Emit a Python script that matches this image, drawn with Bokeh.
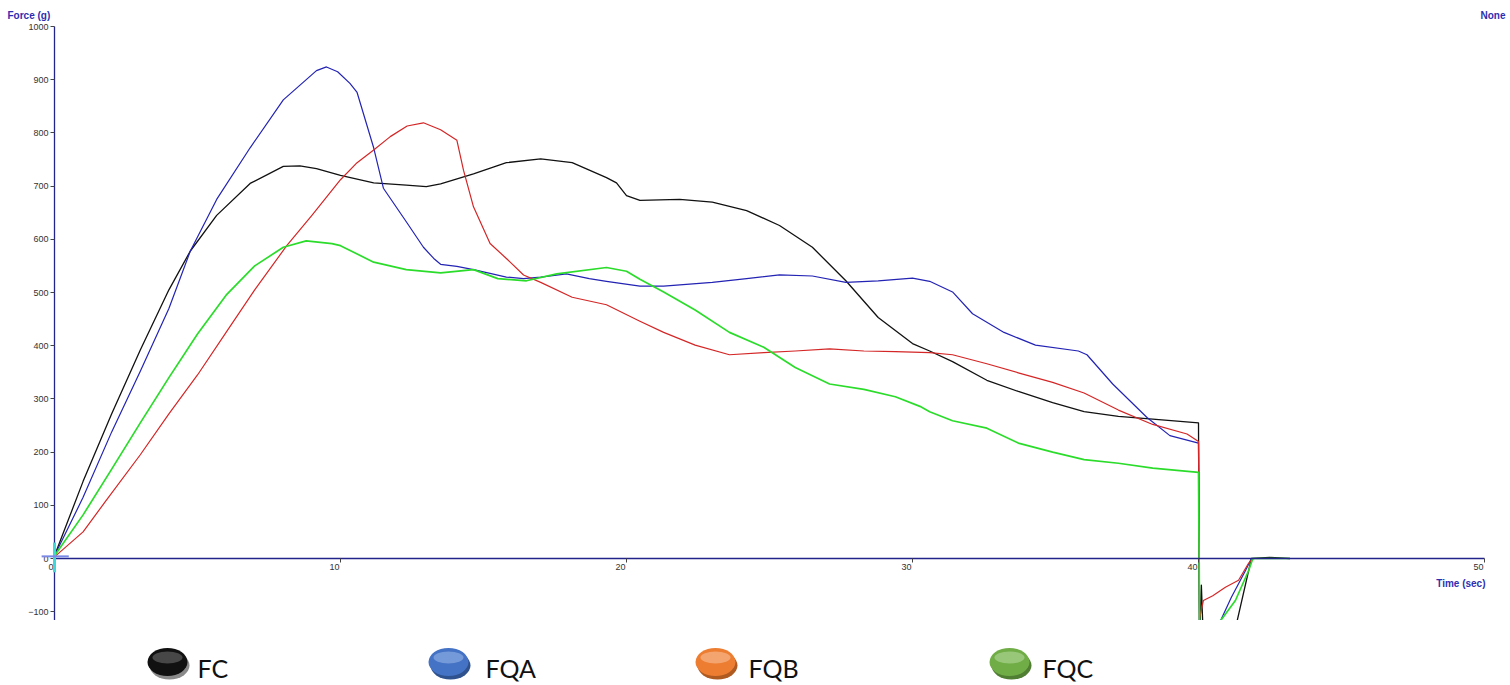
from bokeh.plotting import figure
from bokeh.models import Range1d, LinearAxis, Label, FixedTicker
from bokeh.layouts import column
from bokeh.embed import file_html
from bokeh.resources import INLINE
from bokeh.core.properties import value

# ---------------- data ----------------
series_names = ["FC", "FQA", "FQB", "FQC"]

fc_t = [0, 1, 2, 3, 4, 4.75, 5.67, 6.84, 8.0, 8.58, 9.16, 10.0, 11.16, 12.3, 13.0, 13.5, 14.65,
        15.8, 17.0, 18.1, 19.3, 19.65, 20.0, 20.47, 21.86, 23.0, 24.2, 25.35, 26.5, 27.67, 28.8,
        30.0, 30.6, 31.4, 32.6, 33.7, 34.9, 36.0, 37.2, 38.4, 40.0, 40.03, 40.1, 40.2, 41.0,
        41.85, 42.5, 43.2]
fc_v = [5, 145, 272, 392, 505, 578, 645, 705, 737, 738, 733, 720, 706, 702, 699, 704, 723,
        744, 751, 744, 716, 706, 682, 673, 675, 670, 654, 626, 585, 522, 453,
        404, 390, 370, 335, 314, 293, 276, 267, 262, 255, -160, -50, -200, -200,
        0, 2, 0]

fqa_t = [0, 1, 2, 3, 4, 4.75, 5.67, 6.84, 8.0, 9.16, 9.51, 9.9, 10.33, 10.58, 11.16, 11.5, 12.3,
         12.9, 13.26, 13.5, 14.07, 14.65, 15.23, 15.8, 16.4, 17.0, 17.9, 18.7, 19.3, 20.47, 21.3,
         23.0, 24.2, 25.35, 26.5, 27.67, 28.8, 30.0, 30.6, 31.4, 32.1, 33.2, 34.3, 35.8, 36.1,
         37.0, 38.2, 39.0, 40.0, 40.05, 40.6, 40.77, 41.15, 41.64, 41.85, 43.2]
fqa_v = [5, 115, 238, 352, 470, 578, 675, 772, 862, 917, 924, 915, 893, 876, 772, 696, 633,
         585, 564, 553, 549, 543, 536, 529, 526, 529, 535, 526, 521, 512, 512,
         519, 526, 533, 531, 519, 522, 527, 521, 501, 460, 425, 401, 390, 383,
         328, 265, 231, 217, -200, -200, -117, -73, -23, 0, 0]

fqb_t = [0, 1, 1.75, 3, 4, 5, 6, 7, 8.12, 9, 10, 10.58, 11.16, 11.74, 12.33, 12.9, 13.5, 14.07,
         14.3, 14.65, 15.23, 15.8, 16.4, 17.0, 18.1, 19.3, 20.47, 21.3, 22.4, 23.6, 24.8, 25.9,
         27.1, 28.3, 29.4, 30.6, 31.4, 32.6, 33.7, 34.9, 36.0, 37.2, 38.4, 39.6, 40.0, 40.04,
         40.17, 40.5, 40.94, 41.4, 41.75, 41.9, 43.2]
fqb_v = [3, 50, 105, 195, 272, 345, 425, 505, 588, 645, 712, 744, 768, 793, 813, 819, 806, 786,
         730, 661, 592, 564, 533, 519, 491, 477, 446, 425, 401, 383, 387, 390,
         394, 390, 389, 387, 383, 366, 349, 331, 311, 279, 252, 234, 220, -112,
         -79, -70, -54, -41, -9, 0, 0]

fqc_t = [0, 1, 2, 3, 4, 5, 6, 7, 8, 8.8, 9.7, 10.0, 11.16, 12.3, 13.5, 14.65, 15.5, 16.5, 17.56,
         19.3, 20.0, 20.47, 21.3, 22.4, 23.6, 24.8, 25.9, 27.1, 28.3, 29.4, 30.26, 30.6, 31.4,
         32.6, 33.7, 34.9, 36.0, 37.2, 38.4, 40.0, 40.05, 40.6, 40.77, 41.29, 41.75, 41.9, 43.2]
fqc_v = [5, 82, 168, 255, 340, 422, 495, 550, 585, 597, 592, 588, 557, 543, 537, 543, 526, 522, 535,
         547, 540, 525, 501, 467, 425, 397, 359, 328, 318, 304, 286, 276, 259,
         245, 217, 200, 186, 179, 170, 162, -200, -200, -117, -79, -23, 0, 0]

cursor_v_x = [0, 0]
cursor_v_y = [-26, 30]
cursor_h_x = [-0.45, 0.5]
cursor_h_y = [4, 4]

x_ticks = [0, 10, 20, 30, 40, 50]
x_tick_labels = ["0", "10", "20", "30", "40", "50"]
y_ticks = [-100, 0, 100, 200, 300, 400, 500, 600, 700, 800, 900, 1000]

line_colors = ["#111111", "#2323b4", "#d42626", "#2bdc2b"]
line_widths = [1.3, 1.2, 1.2, 1.7]
legend_main = ["#111111", "#4472C4", "#ED7D31", "#70AD47"]
legend_dark = ["#8a8a8a", "#2F528F", "#AE5A21", "#507E32"]
legend_light = ["#5a5a5a", "#86A8E0", "#F6B183", "#A6D089"]

AXIS_BLUE = "#23238c"
TITLE_BLUE = "#2e2eb0"
FONT = "Liberation Sans"

# ---------------- layout (pixels) ----------------
W = 1508
H_MAIN = 620
H_LEG = 63
X0_PX, X50_PX = 54, 1484          # screen x of t=0 and t=50
Y1000_PX, Y0_PX = 26, 558         # screen y of 1000 g and 0 g
sx = (X50_PX - X0_PX) / 50.0
sy = (Y0_PX - Y1000_PX) / 1000.0
x_start = -X0_PX / sx
x_end = x_start + W / sx
y_end = Y0_PX / sy
y_start = y_end - H_MAIN / sy

# ---------------- main chart ----------------
p = figure(width=W, height=H_MAIN, x_range=Range1d(x_start, x_end),
           y_range=Range1d(y_start, y_end),
           output_backend="svg", toolbar_location=None,
           x_axis_location=None, y_axis_location=None, min_border=0)
p.outline_line_color = None
p.xgrid.visible = False
p.ygrid.visible = False
p.background_fill_color = "white"
p.border_fill_color = "white"

ya = LinearAxis(fixed_location=0, ticker=FixedTicker(ticks=y_ticks), bounds=(y_start, 1000))
ya.axis_line_color = AXIS_BLUE
ya.axis_line_width = 1.3
ya.major_tick_line_color = "#444444"
ya.major_tick_out = 4
ya.major_tick_in = 0
ya.minor_tick_line_color = None
ya.major_label_text_font = FONT
ya.major_label_text_font_size = "9px"
ya.major_label_text_color = "#333333"
ya.major_label_standoff = 2
p.add_layout(ya, "left")

xa = LinearAxis(fixed_location=0, ticker=FixedTicker(ticks=x_ticks), bounds=(0, 50))
xa.axis_line_color = AXIS_BLUE
xa.axis_line_width = 1.3
xa.major_tick_line_color = "#444444"
xa.major_tick_out = 4
xa.major_tick_in = 0
xa.minor_tick_line_color = None
xa.major_label_text_font_size = "0px"
xa.major_label_text_alpha = 0
p.add_layout(xa, "below")

# x tick labels sit to the left of their ticks, as in the source software
p.text(x=x_ticks, y=[0] * len(x_ticks), text=x_tick_labels, x_offset=-1, y_offset=5,
       text_font=value(FONT), text_font_size="9px", text_color="#333333",
       text_align="right", text_baseline="top")

all_t = [fc_t, fqa_t, fqb_t, fqc_t]
all_v = [fc_v, fqa_v, fqb_v, fqc_v]
for t, v, c, w in zip(all_t, all_v, line_colors, line_widths):
    p.line(t, v, line_color=c, line_width=w, line_join="round")

# cursor marks at origin (drawn over the axis)
p.line(cursor_v_x, cursor_v_y, line_color="#3fd8d8", line_width=3, level="overlay")
p.line(cursor_h_x, cursor_h_y, line_color="#7a88e6", line_width=2, level="overlay")

p.add_layout(Label(x=0, y=1000, x_offset=-47, y_offset=6, text="Force (g)",
                   text_font=FONT, text_font_style="bold", text_font_size="10px",
                   text_color=TITLE_BLUE, text_baseline="bottom", text_align="left"))
p.add_layout(Label(x=50, y=1000, x_offset=21, y_offset=6, text="None",
                   text_font=FONT, text_font_style="bold", text_font_size="10px",
                   text_color=TITLE_BLUE, text_baseline="bottom", text_align="right"))
p.add_layout(Label(x=50, y=0, x_offset=1, y_offset=-19, text="Time (sec)",
                   text_font=FONT, text_font_style="bold", text_font_size="10px",
                   text_color=TITLE_BLUE, text_baseline="top", text_align="right"))

# ---------------- legend strip ----------------
lf = figure(width=W, height=H_LEG, x_range=Range1d(0, W), y_range=Range1d(0, H_LEG),
            output_backend="svg", toolbar_location=None, min_border=0,
            x_axis_location=None, y_axis_location=None)
lf.outline_line_color = None
lf.xgrid.visible = False
lf.ygrid.visible = False

legend_cx = [167, 448, 715, 1009]
legend_tx = [197, 485, 748, 1042]
lf.ellipse(x=[c + 2 for c in legend_cx], y=18, width=40, height=28,
           fill_color=legend_dark, line_color=None)
lf.ellipse(x=legend_cx, y=21.5, width=40, height=28,
           fill_color=legend_main, line_color=None)
lf.ellipse(x=legend_cx, y=26, width=30, height=12,
           fill_color=legend_light, fill_alpha=0.75, line_color=None)
lf.text(x=legend_tx, y=15.5, text=series_names, text_font=value("Lato"),
        text_font_size="25px", text_color="#111111", text_baseline="middle",
        text_align="left")

layout = column(p, lf, spacing=0)
open("out.html", "w").write(file_html(layout, INLINE))
